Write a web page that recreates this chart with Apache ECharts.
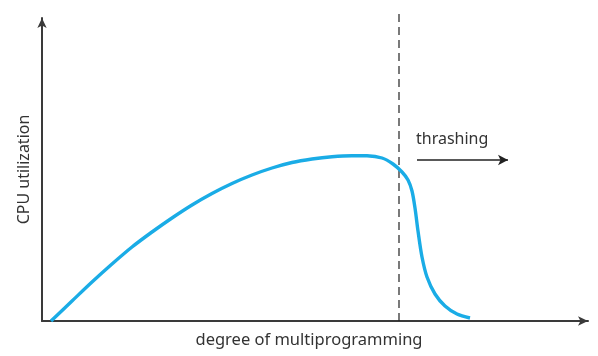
<!DOCTYPE html>
<html>
<head>
<meta charset="utf-8">
<script src="https://cdn.jsdelivr.net/npm/echarts@6/dist/echarts.min.js"></script>
<style>html,body{margin:0;padding:0;background:#fff;}#c{width:598px;height:356px;}</style>
</head>
<body>
<div id="c"></div>
<script>
// Degree of multiprogramming (x) and CPU utilization (y)
const degree = [9, 30, 50, 70, 90, 110, 130, 150, 170, 190, 210, 230, 250, 270, 290, 310, 325, 340, 351, 360, 366, 370, 373, 376, 380, 385, 393, 403, 415, 428];
const utilization = [0, 20, 39, 57, 74, 89, 103, 116, 127.5, 137.5, 146, 153, 158.5, 162, 164.3, 165.3, 165.2, 163, 157, 149, 141, 130, 113, 90, 64, 44, 27, 15, 7, 3];
const thrashingStart = 357;
const arrowFrom = [375, 161];
const arrowTo = [466, 161];
const xName = 'degree of multiprogramming';
const yName = 'CPU utilization';
const annotation = 'thrashing';

const curve = degree.map((d, i) => [d, utilization[i]]);
const axisColor = '#333333';
const chart = echarts.init(document.getElementById('c'), null, {renderer: 'canvas'});
chart.setOption({
  animation: false,
  grid: {left: 42, right: 10, top: 18, bottom: 35},
  xAxis: {
    type: 'value', min: 0, max: 546,
    name: xName, nameLocation: 'middle', nameGap: 11,
    nameTextStyle: {fontFamily: 'Noto Sans', fontSize: 16.5, color: axisColor, padding: [0, 12, 0, 0]},
    axisLine: {lineStyle: {color: '#3a3a3a', width: 2}, symbol: ['none', 'arrow'], symbolSize: [7, 10]},
    axisTick: {show: false}, axisLabel: {show: false}, splitLine: {show: false}
  },
  yAxis: {
    type: 'value', min: 0, max: 303,
    name: yName, nameLocation: 'middle', nameGap: 10,
    nameTextStyle: {fontFamily: 'Noto Sans', fontSize: 16, color: axisColor},
    axisLine: {show: true, lineStyle: {color: '#3a3a3a', width: 2}, symbol: ['none', 'arrow'], symbolSize: [7, 10]},
    axisTick: {show: false}, axisLabel: {show: false}, splitLine: {show: false}
  },
  series: [
    {
      type: 'line', data: curve, smooth: 0.3, showSymbol: false,
      lineStyle: {color: '#1aace6', width: 3.4},
      z: 3
    },
    {
      type: 'line', data: [[thrashingStart, 0], [thrashingStart, 308]], showSymbol: false, clip: false,
      lineStyle: {color: '#222', width: 1.2, type: [8, 5]},
      z: 2,
      markLine: {
        silent: true, symbol: ['none', 'arrow'], symbolSize: [8, 10],
        lineStyle: {color: '#222', width: 1.5, type: 'solid'},
        label: {show: false},
        data: [[{coord: arrowFrom}, {coord: arrowTo}]]
      }
    }
  ],
  graphic: [{
    type: 'text', left: 416, top: 131,
    style: {text: annotation, fontFamily: 'Noto Sans', fontSize: 16, fill: axisColor}
  }]
});
</script>
</body>
</html>
